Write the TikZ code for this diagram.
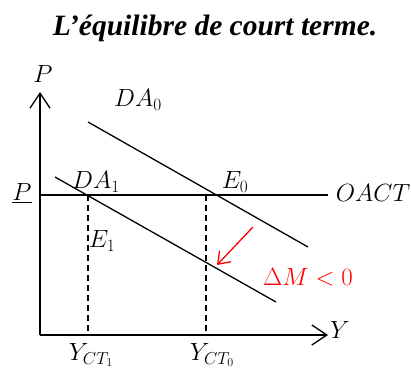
\documentclass[tikz,border=0pt]{standalone}
\usepackage{fontspec}
\setmainfont{Liberation Serif}
\usetikzlibrary{arrows.meta}
\begin{document}
\begin{tikzpicture}[x=1pt,y=-1pt,
  lbl/.style={font=\fontsize{24.5}{28}\selectfont, inner sep=0pt},
  axis/.style={line width=1.3pt, -{Straight Barb[length=15pt,width=20pt,line width=1.3pt]}},
  curve/.style={line width=1.3pt},
  guide/.style={line width=1.1pt, dash pattern=on 6pt off 4pt}]
\useasboundingbox (0,0) rectangle (411,374);
\node[font=\fontsize{29.5}{33}\selectfont\bfseries\itshape, inner sep=0pt] (title) at (215,28) {L’équilibre de court terme.};
% axes
\coordinate (O) at (40,335);
\coordinate (Ptop) at (40,92);
\coordinate (Yend) at (328,335);
\draw[axis] (O) -- (Ptop);
\draw[axis] (O) -- (Yend);
% lines
\coordinate (A0s) at (88,122); \coordinate (A0e) at (308,247);
\coordinate (A1s) at (55,177); \coordinate (A1e) at (276,302);
\coordinate (Hs) at (40,195); \coordinate (He) at (328,195);
\draw[curve] (A0s) -- (A0e);
\draw[curve] (A1s) -- (A1e);
\draw[curve] (Hs) -- (He);
% dashed guides
\coordinate (d1t) at (88,195); \coordinate (d1b) at (88,331);
\coordinate (d0t) at (206,195); \coordinate (d0b) at (206,331);
\draw[guide] (d1t) -- (d1b);
\draw[guide] (d0t) -- (d0b);
% red arrow
\coordinate (rs) at (253,227); \coordinate (re) at (217,265);
\draw[red, line width=1.3pt, -{Straight Barb[length=11pt,width=16pt,line width=1.3pt]}] (rs) -- (re);
% labels
\node[lbl] (lP) at (43,74) {$P$};
\node[lbl] (lDA0) at (138,100) {$DA_0$};
\node[lbl] (lPbar) at (22,193) {$\underline{P}$};
\node[lbl] (lOACT) at (373,193) {$OACT$};
\node[lbl] (lE0) at (235,182) {$E_0$};
\node[lbl] (lDA1) at (96,182) {$DA_1$};
\node[lbl] (lE1) at (102,241) {$E_1$};
\node[lbl, text=red] (lDM) at (308,277) {$\Delta M<0$};
\node[lbl] (lY) at (340,330) {$Y$};
\node[lbl] (lY1) at (91,355) {$Y_{CT_1}$};
\node[lbl] (lY0) at (212,355) {$Y_{CT_0}$};
\end{tikzpicture}
\end{document}
